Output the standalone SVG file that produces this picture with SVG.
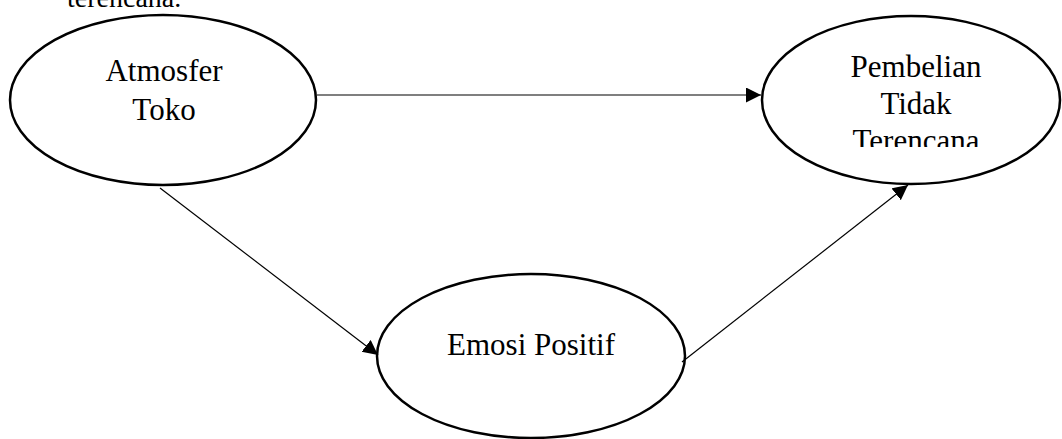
<svg xmlns="http://www.w3.org/2000/svg" width="1062" height="439" viewBox="0 0 1062 439">
<style>
.node{fill:#fff;stroke:#000;stroke-width:2.5}
.lbl{font-family:"Liberation Serif","Times New Roman",serif;font-size:31px;fill:#000;text-anchor:middle}
.edge{stroke:#000;stroke-width:1.2;fill:none}
</style>
<defs>
<marker id="arr" markerUnits="userSpaceOnUse" markerWidth="16" markerHeight="16" refX="15" refY="7.5" orient="auto">
<path d="M0,0 L15,7.5 L0,15 z" fill="#000"/>
</marker>
<clipPath id="clipP"><rect x="760" y="0" width="302" height="147"/></clipPath>
</defs>
<text x="67" y="7" style="font-family:'Liberation Serif','Times New Roman',serif;font-size:28px;fill:#000">terencana.</text>
<g id="atmosfer">
<ellipse class="node" cx="163" cy="100" rx="153" ry="85"/>
<text class="lbl" x="164" y="81">Atmosfer</text>
<text class="lbl" x="164" y="120">Toko</text>
</g>
<g id="pembelian">
<ellipse class="node" cx="911" cy="100" rx="149" ry="84"/>
<g clip-path="url(#clipP)">
<text class="lbl" x="916" y="77">Pembelian</text>
<text class="lbl" x="916" y="114">Tidak</text>
<text class="lbl" x="916" y="151">Terencana</text>
</g>
</g>
<g id="emosi">
<ellipse class="node" cx="531" cy="356" rx="154" ry="82"/>
<text class="lbl" x="531" y="355">Emosi Positif</text>
</g>
<g id="connectors">
<line class="edge" x1="317" y1="95" x2="761" y2="95" marker-end="url(#arr)"/>
<line class="edge" x1="160" y1="188" x2="378" y2="355" marker-end="url(#arr)"/>
<line class="edge" x1="682" y1="362" x2="908" y2="185" marker-end="url(#arr)"/>
</g>
</svg>
